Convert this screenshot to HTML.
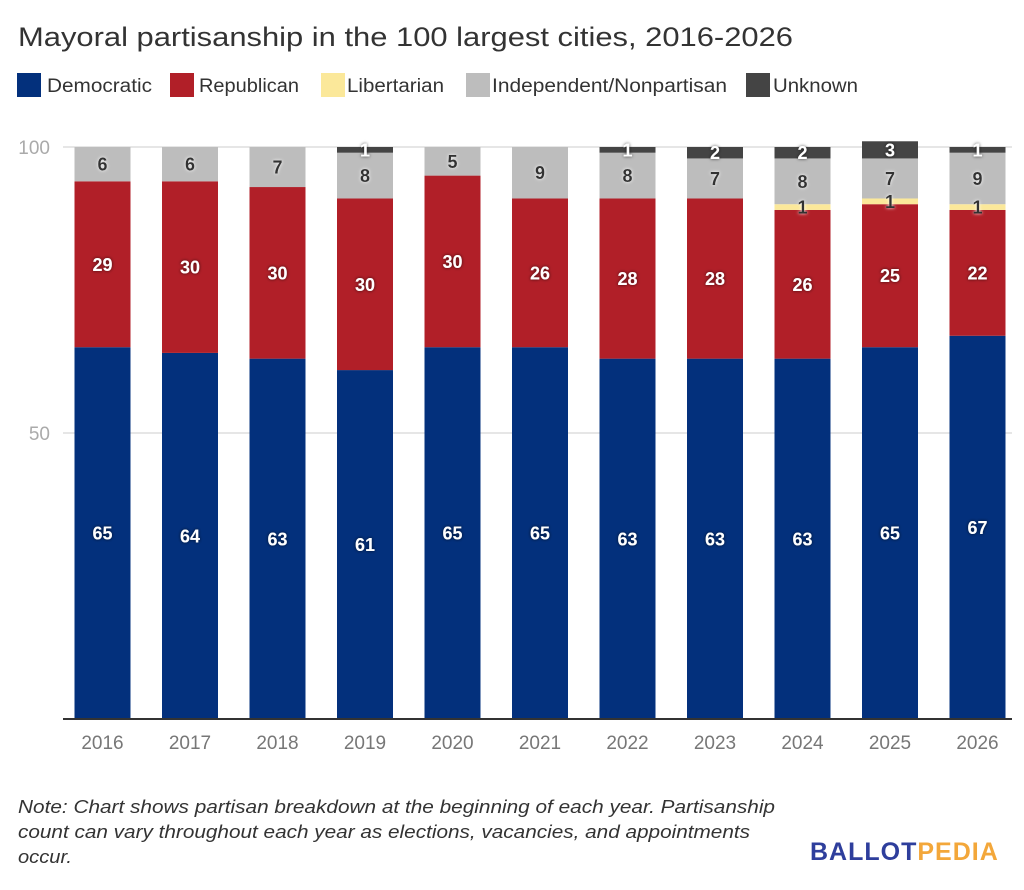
<!DOCTYPE html>
<html><head><meta charset="utf-8"><style>
body{margin:0;background:#fff;width:1024px;height:885px;overflow:hidden;font-family:"Liberation Sans",sans-serif}
.w{fill:#fff;font-size:18px;font-weight:bold;text-anchor:middle;filter:url(#sd)}
.g{fill:#333;font-size:18px;font-weight:bold;text-anchor:middle;filter:url(#sw)}
</style></head><body>
<svg width="1024" height="885" xmlns="http://www.w3.org/2000/svg" font-family="Liberation Sans, sans-serif">
<defs>
<filter id="sd" x="-50%" y="-50%" width="200%" height="200%"><feDropShadow dx="0" dy="0" stdDeviation="1.5" flood-color="#000" flood-opacity="0.7"/></filter>
<filter id="sw" x="-50%" y="-50%" width="200%" height="200%"><feDropShadow dx="0" dy="0" stdDeviation="1.5" flood-color="#fff" flood-opacity="1"/></filter>
</defs>
<text x="18" y="46" font-size="27" fill="#333" textLength="775" lengthAdjust="spacingAndGlyphs">Mayoral partisanship in the 100 largest cities, 2016-2026</text>
<g font-size="19" fill="#333">
<rect x="17" y="73" width="24" height="24" fill="#03307c"/><text x="47" y="92" textLength="105" lengthAdjust="spacingAndGlyphs">Democratic</text>
<rect x="170" y="73" width="24" height="24" fill="#b11f28"/><text x="199" y="92" textLength="100" lengthAdjust="spacingAndGlyphs">Republican</text>
<rect x="321" y="73" width="24" height="24" fill="#fbe89a"/><text x="347" y="92" textLength="97" lengthAdjust="spacingAndGlyphs">Libertarian</text>
<rect x="466" y="73" width="24" height="24" fill="#bdbdbd"/><text x="492" y="92" textLength="235" lengthAdjust="spacingAndGlyphs">Independent/Nonpartisan</text>
<rect x="746" y="73" width="24" height="24" fill="#444"/><text x="773" y="92" textLength="85" lengthAdjust="spacingAndGlyphs">Unknown</text>
</g>
<line x1="63" y1="147" x2="1012" y2="147" stroke="#e6e6e6" stroke-width="2"/>
<line x1="63" y1="433" x2="1012" y2="433" stroke="#e6e6e6" stroke-width="2"/>
<text x="50" y="154" font-size="19" fill="#aaa" text-anchor="end">100</text>
<text x="50" y="440" font-size="19" fill="#aaa" text-anchor="end">50</text>

<!-- 2016 -->
<rect x="74.5" y="347.2" width="56" height="371.8" fill="#03307c"/>
<rect x="74.5" y="181.32" width="56" height="165.88" fill="#b11f28"/>
<rect x="74.5" y="147" width="56" height="34.32" fill="#bdbdbd"/>
<text class="w" x="102.5" y="539.6">65</text><text class="w" x="102.5" y="270.76">29</text><text class="g" x="102.5" y="170.66">6</text>
<!-- 2017 -->
<rect x="162" y="352.92" width="56" height="366.08" fill="#03307c"/>
<rect x="162" y="181.32" width="56" height="171.6" fill="#b11f28"/>
<rect x="162" y="147" width="56" height="34.32" fill="#bdbdbd"/>
<text class="w" x="190" y="542.46">64</text><text class="w" x="190" y="273.62">30</text><text class="g" x="190" y="170.66">6</text>
<!-- 2018 -->
<rect x="249.5" y="358.64" width="56" height="360.36" fill="#03307c"/>
<rect x="249.5" y="187.04" width="56" height="171.6" fill="#b11f28"/>
<rect x="249.5" y="147" width="56" height="40.04" fill="#bdbdbd"/>
<text class="w" x="277.5" y="545.32">63</text><text class="w" x="277.5" y="279.34">30</text><text class="g" x="277.5" y="173.52">7</text>
<!-- 2019 -->
<rect x="337" y="370.08" width="56" height="348.92" fill="#03307c"/>
<rect x="337" y="198.48" width="56" height="171.6" fill="#b11f28"/>
<rect x="337" y="152.72" width="56" height="45.76" fill="#bdbdbd"/>
<rect x="337" y="147" width="56" height="5.72" fill="#444"/>
<text class="w" x="365" y="551.04">61</text><text class="w" x="365" y="290.78">30</text><text class="g" x="365" y="182.1">8</text><text class="w" x="365" y="156.36">1</text>
<!-- 2020 -->
<rect x="424.5" y="347.2" width="56" height="371.8" fill="#03307c"/>
<rect x="424.5" y="175.6" width="56" height="171.6" fill="#b11f28"/>
<rect x="424.5" y="147" width="56" height="28.6" fill="#bdbdbd"/>
<text class="w" x="452.5" y="539.6">65</text><text class="w" x="452.5" y="267.9">30</text><text class="g" x="452.5" y="167.8">5</text>
<!-- 2021 -->
<rect x="512" y="347.2" width="56" height="371.8" fill="#03307c"/>
<rect x="512" y="198.48" width="56" height="148.72" fill="#b11f28"/>
<rect x="512" y="147" width="56" height="51.48" fill="#bdbdbd"/>
<text class="w" x="540" y="539.6">65</text><text class="w" x="540" y="279.34">26</text><text class="g" x="540" y="179.24">9</text>
<!-- 2022 -->
<rect x="599.5" y="358.64" width="56" height="360.36" fill="#03307c"/>
<rect x="599.5" y="198.48" width="56" height="160.16" fill="#b11f28"/>
<rect x="599.5" y="152.72" width="56" height="45.76" fill="#bdbdbd"/>
<rect x="599.5" y="147" width="56" height="5.72" fill="#444"/>
<text class="w" x="627.5" y="545.32">63</text><text class="w" x="627.5" y="285.06">28</text><text class="g" x="627.5" y="182.1">8</text><text class="w" x="627.5" y="156.36">1</text>
<!-- 2023 -->
<rect x="687" y="358.64" width="56" height="360.36" fill="#03307c"/>
<rect x="687" y="198.48" width="56" height="160.16" fill="#b11f28"/>
<rect x="687" y="158.44" width="56" height="40.04" fill="#bdbdbd"/>
<rect x="687" y="147" width="56" height="11.44" fill="#444"/>
<text class="w" x="715" y="545.32">63</text><text class="w" x="715" y="285.06">28</text><text class="g" x="715" y="184.96">7</text><text class="w" x="715" y="159.22">2</text>
<!-- 2024 -->
<rect x="774.5" y="358.64" width="56" height="360.36" fill="#03307c"/>
<rect x="774.5" y="209.92" width="56" height="148.72" fill="#b11f28"/>
<rect x="774.5" y="204.2" width="56" height="5.72" fill="#fbe89a"/>
<rect x="774.5" y="158.44" width="56" height="45.76" fill="#bdbdbd"/>
<rect x="774.5" y="147" width="56" height="11.44" fill="#444"/>
<text class="w" x="802.5" y="545.32">63</text><text class="w" x="802.5" y="290.78">26</text><text class="g" x="802.5" y="213.56">1</text><text class="g" x="802.5" y="187.82">8</text><text class="w" x="802.5" y="159.22">2</text>
<!-- 2025 -->
<rect x="862" y="347.2" width="56" height="371.8" fill="#03307c"/>
<rect x="862" y="204.2" width="56" height="143" fill="#b11f28"/>
<rect x="862" y="198.48" width="56" height="5.72" fill="#fbe89a"/>
<rect x="862" y="158.44" width="56" height="40.04" fill="#bdbdbd"/>
<rect x="862" y="141.28" width="56" height="17.16" fill="#444"/>
<text class="w" x="890" y="539.6">65</text><text class="w" x="890" y="282.2">25</text><text class="g" x="890" y="207.84">1</text><text class="g" x="890" y="184.96">7</text><text class="w" x="890" y="156.36">3</text>
<!-- 2026 -->
<rect x="949.5" y="335.76" width="56" height="383.24" fill="#03307c"/>
<rect x="949.5" y="209.92" width="56" height="125.84" fill="#b11f28"/>
<rect x="949.5" y="204.2" width="56" height="5.72" fill="#fbe89a"/>
<rect x="949.5" y="152.72" width="56" height="51.48" fill="#bdbdbd"/>
<rect x="949.5" y="147" width="56" height="5.72" fill="#444"/>
<text class="w" x="977.5" y="533.88">67</text><text class="w" x="977.5" y="279.34">22</text><text class="g" x="977.5" y="213.56">1</text><text class="g" x="977.5" y="184.96">9</text><text class="w" x="977.5" y="156.36">1</text>

<line x1="63" y1="719" x2="1012" y2="719" stroke="#333" stroke-width="2"/>
<g font-size="19" fill="#777" text-anchor="middle">
<text x="102.5" y="749">2016</text><text x="190" y="749">2017</text><text x="277.5" y="749">2018</text><text x="365" y="749">2019</text><text x="452.5" y="749">2020</text><text x="540" y="749">2021</text><text x="627.5" y="749">2022</text><text x="715" y="749">2023</text><text x="802.5" y="749">2024</text><text x="890" y="749">2025</text><text x="977.5" y="749">2026</text>
</g>
<g font-size="18.5" fill="#333" font-style="italic">
<text x="18" y="813" textLength="757" lengthAdjust="spacingAndGlyphs">Note: Chart shows partisan breakdown at the beginning of each year. Partisanship</text>
<text x="18" y="838" textLength="732" lengthAdjust="spacingAndGlyphs">count can vary throughout each year as elections, vacancies, and appointments</text>
<text x="18" y="863" textLength="54" lengthAdjust="spacingAndGlyphs">occur.</text>
</g>
<text x="810" y="860" font-size="25" font-weight="bold" fill="#2e3e9c" letter-spacing="1">BALLOT<tspan fill="#f3a73a">PEDIA</tspan></text>
</svg>
</body></html>
